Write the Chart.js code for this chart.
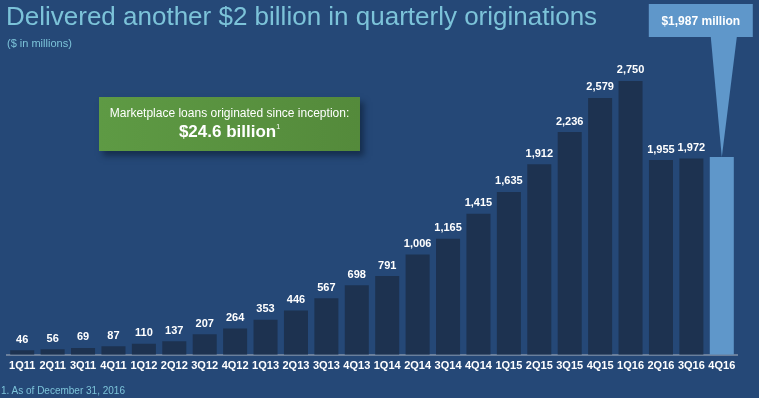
<!DOCTYPE html>
<html>
<head>
<meta charset="utf-8">
<script src="https://cdn.jsdelivr.net/npm/chart.js@4.4.1/dist/chart.umd.min.js"></script>
<style>
  html, body { margin: 0; padding: 0; }
  body { width: 759px; height: 398px; background: #254877; position: relative; overflow: hidden;
         font-family: "Liberation Sans", Arial, sans-serif; }
  #title { position: absolute; left: 6px; top: 1px; font-size: 26px; color: #7cc3d9; white-space: nowrap; }
  #sub { position: absolute; left: 7px; top: 37px; font-size: 11px; color: #7cc3d9; }
  #green { position: absolute; left: 99px; top: 97px; width: 261px; height: 54px;
           background: linear-gradient(90deg, #5e9a44, #548a3b); color: #fff; text-align: center;
           box-shadow: 4px 5px 6px rgba(10,25,45,0.55); }
  #green .l1 { font-size: 12px; margin-top: 9px; }
  #green .l2 { font-size: 17px; font-weight: bold; margin-top: 2px; }
  #green sup { font-size: 7px; font-weight: normal; vertical-align: 8px; }
  #foot { position: absolute; left: 1px; top: 385px; font-size: 10px; color: #7cc3d9; }
  canvas { position: absolute; left: 0; top: 0; }
</style>
</head>
<body>
<canvas id="barChart" width="759" height="398"></canvas>
<div id="title">Delivered another $2 billion in quarterly originations</div>
<div id="sub">($ in millions)</div>
<div id="green"><div class="l1">Marketplace loans originated since inception:</div><div class="l2">$24.6 billion<sup>1</sup></div></div>
<div id="foot">1. As of December 31, 2016</div>
<script>
// quarters
const quarters = ["1Q11","2Q11","3Q11","4Q11","1Q12","2Q12","3Q12","4Q12","1Q13","2Q13","3Q13","4Q13",
                  "1Q14","2Q14","3Q14","4Q14","1Q15","2Q15","3Q15","4Q15","1Q16","2Q16","3Q16","4Q16"];
// originations, $ millions
const originations = [46,56,69,87,110,137,207,264,353,446,567,698,
                      791,1006,1165,1415,1635,1912,2236,2579,2750,1955,1972,1987];
const calloutText = "$1,987 million";

const darkBar = "#1d3250";
const lightBar = "#5f97ca";

// labels above bars + callout on last quarter
const labelsPlugin = {
    id: "barLabels",
    afterDatasetsDraw(chart) {
        const ctx = chart.ctx;
        const bars = chart.getDatasetMeta(0).data;
        ctx.save();
        ctx.fillStyle = "#ffffff";
        ctx.font = "bold 11px 'Liberation Sans', Arial, sans-serif";
        ctx.textAlign = "center";
        ctx.textBaseline = "bottom";
        for (let i = 0; i < bars.length - 1; i++) {
            ctx.fillText(originations[i].toLocaleString("en-US"), bars[i].x, bars[i].y - 5);
        }
        // callout
        let last = bars[bars.length - 1];
        let bx = last.x - 73, by = 4, bw = 104, bh = 33;
        ctx.fillStyle = lightBar;
        ctx.beginPath();
        ctx.moveTo(last.x - 11, by + bh);
        ctx.lineTo(last.x + 15, by + bh);
        ctx.lineTo(last.x, last.y);
        ctx.closePath();
        ctx.fill();
        ctx.fillRect(bx, by, bw, bh);
        ctx.fillStyle = "#ffffff";
        ctx.font = "bold 12px 'Liberation Sans', Arial, sans-serif";
        ctx.textBaseline = "middle";
        ctx.fillText(calloutText, bx + bw / 2, by + bh / 2 + 1);
        ctx.restore();
    }
};

const colors = originations.map((v, i) => i == originations.length - 1 ? lightBar : darkBar);

new Chart(document.getElementById("barChart"), {
    type: "bar",
    data: {
        labels: quarters,
        datasets: [{
            data: originations,
            backgroundColor: colors,
            categoryPercentage: 0.79,
            barPercentage: 1.0
        }]
    },
    options: {
        responsive: false,
        animation: false,
        layout: { padding: { left: 7, right: 22, top: 56, bottom: 20 } },
        plugins: { legend: { display: false }, tooltip: { enabled: false } },
        scales: {
            x: {
                grid: { display: false, drawTicks: false },
                border: { display: true, color: "#6a7f9c", width: 2 },
                ticks: { color: "#ffffff", padding: 5, maxRotation: 0, autoSkip: false,
                         font: { family: "'Liberation Sans', Arial, sans-serif", size: 11, weight: "bold" } }
            },
            y: { display: false, min: 0, max: 3000 }
        }
    },
    plugins: [labelsPlugin]
});
</script>
</body>
</html>
